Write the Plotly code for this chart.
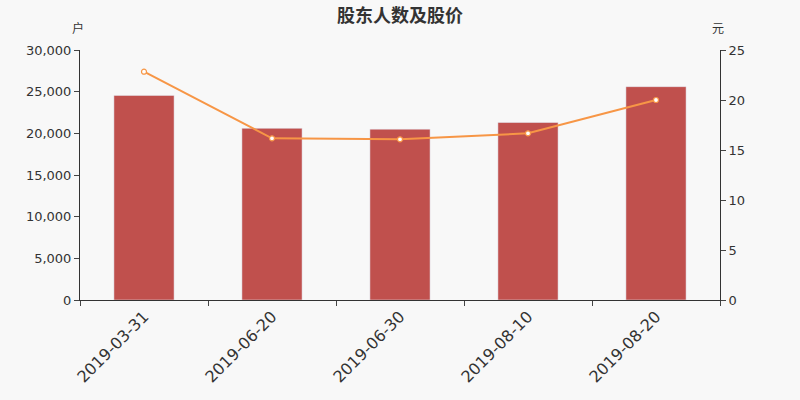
import plotly.graph_objects as go

dates = ['2019-03-31', '2019-06-20', '2019-06-30', '2019-08-10', '2019-08-20']
holders = [24550, 20600, 20500, 21300, 25600]
prices = [22.83, 16.17, 16.07, 16.67, 20.0]

bar_color = '#c0504d'
line_color = '#f79646'
text_color = '#333333'
bg_color = '#f8f8f8'

fig = go.Figure()
fig.add_trace(go.Bar(x=dates, y=holders, name='股东人数', marker=dict(color=bar_color),
                     width=0.47, yaxis='y'))
fig.add_trace(go.Scatter(x=dates, y=prices, name='股价', mode='lines+markers', yaxis='y2',
                         line=dict(color=line_color, width=2),
                         marker=dict(size=5, color='white', line=dict(color=line_color, width=1.2))))

fig.update_layout(
    width=800, height=400,
    paper_bgcolor=bg_color, plot_bgcolor=bg_color,
    margin=dict(l=80, r=80, t=50, b=100),
    showlegend=False,
    font=dict(family='DejaVu Sans', color=text_color, size=13),
    title=dict(text='<b>股东人数及股价</b>', x=0.5, xanchor='center', y=0.96, yanchor='middle',
               font=dict(family='Noto Sans CJK SC', size=18, color=text_color)),
    xaxis=dict(type='category', tickson='boundaries', ticks='outside', ticklen=5,
               tickangle=-45, tickfont=dict(size=16), showline=True, linecolor=text_color,
               linewidth=1, showgrid=False, zeroline=False),
    yaxis=dict(range=[0, 30000], dtick=5000, tickformat=',', ticks='outside', ticklen=5,
               showline=True, linecolor=text_color, showgrid=False, zeroline=False),
    yaxis2=dict(range=[0, 25], dtick=5, overlaying='y', side='right', ticks='outside', ticklen=5,
                showline=True, linecolor=text_color, showgrid=False, zeroline=False),
    annotations=[
        dict(text='户', xref='paper', yref='paper', x=-0.003, y=1.09, xanchor='center', yanchor='middle',
             showarrow=False, font=dict(family='Noto Sans CJK SC', size=12, color=text_color)),
        dict(text='元', xref='paper', yref='paper', x=0.997, y=1.09, xanchor='center', yanchor='middle',
             showarrow=False, font=dict(family='Noto Sans CJK SC', size=12, color=text_color)),
    ],
)

# page body margin would push the figure 8px off the corner
fig.write_html('out.html', config={'displayModeBar': False},
               post_script="document.body.style.margin='0';document.body.style.background='%s';" % bg_color)
